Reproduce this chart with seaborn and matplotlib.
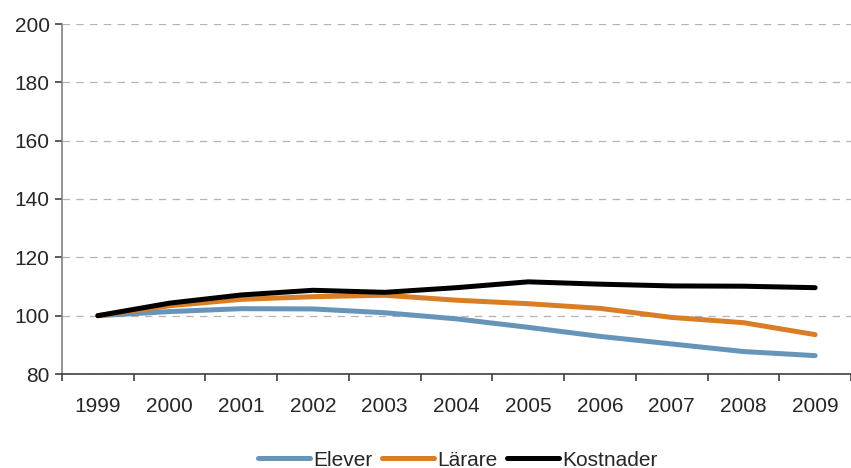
import matplotlib
matplotlib.use("Agg")
import matplotlib.pyplot as plt
import pandas as pd
import seaborn as sns

years = ["1999", "2000", "2001", "2002", "2003", "2004", "2005", "2006", "2007", "2008", "2009"]
elever = [100, 101.4, 102.4, 102.3, 101.0, 98.9, 96.0, 92.9, 90.3, 87.7, 86.3]
larare = [100, 103.4, 105.6, 106.5, 107.0, 105.3, 104.1, 102.5, 99.4, 97.6, 93.5]
kostnader = [100, 104.3, 107.1, 108.7, 108.0, 109.6, 111.6, 110.8, 110.2, 110.1, 109.6]

series = ["Elever", "Lärare", "Kostnader"]
colors = ["#6794B9", "#D97E26", "#000000"]

df = pd.DataFrame({"year": years * 3,
                   "pos": list(range(len(years))) * 3,
                   "value": elever + larare + kostnader,
                   "serie": [s for s in series for _ in years]})

sns.set_style("white")
plt.rcParams["font.family"] = ["Liberation Sans", "DejaVu Sans"]

fig = plt.figure(figsize=(8.51, 4.68), dpi=100)
ax = fig.add_axes([62 / 851, 94 / 468, (851 - 62) / 851, 350 / 468])

sns.lineplot(data=df, x="pos", y="value", hue="serie", hue_order=series,
             palette=colors, linewidth=3.6, ax=ax, legend=True,
             solid_capstyle="round")

ax.set_xlim(-0.5, 10.43)
ax.set_ylim(80, 200)
ax.set_yticks(range(80, 201, 20))
ax.set_xticks(range(len(years)))
ax.set_xticklabels(years)
ax.set_xticks([i - 0.5 for i in range(len(years) + 1)], minor=True)
ax.tick_params(axis="x", which="major", bottom=False, pad=13, labelsize=15)
ax.tick_params(axis="x", which="minor", bottom=True, length=5, width=1.2,
               color="#404040", direction="out")
ax.tick_params(axis="y", left=True, length=5, width=1.2, color="#404040",
               direction="out", labelsize=15, pad=4)
ax.set_xlabel("")
ax.set_ylabel("")

ax.yaxis.grid(True, linestyle=(0, (6, 5)), color="#B4B4B4", linewidth=0.9)
ax.set_axisbelow(True)
for side in ["top", "right"]:
    ax.spines[side].set_visible(False)
ax.spines["left"].set_color("#808080")
ax.spines["left"].set_linewidth(1.2)
ax.spines["bottom"].set_color("#404040")
ax.spines["bottom"].set_linewidth(1.2)

handles, labels = ax.get_legend_handles_labels()
ax.legend(handles, labels, loc="center", bbox_to_anchor=(458 / 851, 8 / 468),
          bbox_transform=fig.transFigure, ncol=3, frameon=False, fontsize=15,
          handlelength=2.5, handletextpad=0.15, columnspacing=0.45, borderpad=0)

fig.savefig("out.png", dpi=100)
